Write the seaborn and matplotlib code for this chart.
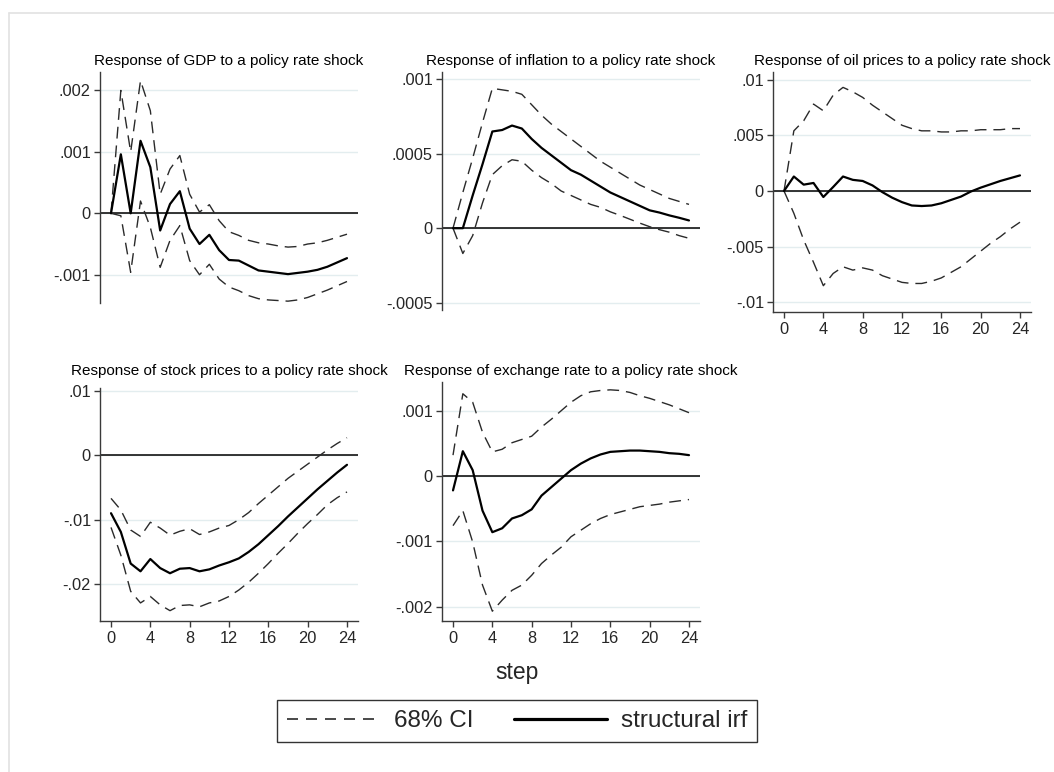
import matplotlib
matplotlib.use("Agg")
import matplotlib.pyplot as plt
import seaborn as sns
import pandas as pd
from matplotlib.lines import Line2D

# ---------------- data ----------------
steps = list(range(25))

gdp_irf = [0, .00096, 0, .00118, .00075, -.00028, .00015, .00036, -.00025, -.0005, -.00035, -.0006,
           -.00076, -.00077, -.00085, -.00093, -.00095, -.00097, -.00099, -.00097, -.00095, -.00092,
           -.00087, -.0008, -.00073]
gdp_up = [0, .002, .001, .00216, .00167, .00031, .00072, .00094, .00031, .00002, .00014, -.00012,
          -.0003, -.00036, -.00044, -.00048, -.0005, -.00053, -.00055, -.00054, -.0005, -.00048,
          -.00044, -.00039, -.00034]
gdp_lo = [0, -.00004, -.00096, .0002, -.00023, -.00088, -.00044, -.0002, -.00077, -.001, -.00083,
          -.00107, -.0012, -.00126, -.00134, -.00139, -.00141, -.00142, -.00143, -.00141, -.00137,
          -.00131, -.00125, -.00118, -.00111]

infl_irf = [0, 0, .00022, .00043, .00065, .00066, .00069, .00067, .0006, .00054, .00049, .00044,
            .00039, .00036, .00032, .00028, .00024, .00021, .00018, .00015, .00012, .000105,
            .000086, .00007, .000052]
infl_up = [0, .00024, .00047, .00071, .00094, .00093, .00092, .0009, .00083, .00076, .0007, .00065,
           .0006, .00055, .0005, .00045, .00041, .00037, .00033, .00029, .00026, .00023, .0002,
           .00018, .00016]
infl_lo = [0, -.00017, -.00005, .00017, .00036, .00042, .00046, .00045, .00039, .00034, .0003,
           .00025, .00022, .00019, .00016, .00014, .00011, .000086, .00006, .000034, .00001,
           -.00001, -.000027, -.00005, -.000068]

oil_irf = [0, .0013, .00057, .00072, -.00054, .00036, .0013, .001, .0009, .0005, -.0001, -.0006,
           -.001, -.0013, -.00135, -.0013, -.0011, -.0008, -.0005, -.00005, .0003, .0006, .0009,
           .00115, .0014]
oil_up = [0, .0054, .0063, .0078, .0072, .0086, .0093, .0089, .0084, .0077, .0071, .0065, .0059,
          .0056, .0054, .0054, .0053, .0053, .0054, .0054, .0055, .0055, .0055, .0056, .0056]
oil_lo = [0, -.002, -.0044, -.0064, -.0085, -.0074, -.0068, -.0071, -.0069, -.0071, -.0076,
          -.0079, -.0082, -.0083, -.0083, -.0081, -.0078, -.0073, -.0068, -.0061, -.0054, -.0047,
          -.0041, -.0034, -.0028]

stock_irf = [-.009, -.0119, -.0168, -.018, -.0161, -.0175, -.0183, -.0176, -.0175, -.018, -.0177,
             -.0171, -.0166, -.016, -.015, -.0138, -.0124, -.011, -.0095, -.0081, -.0067, -.0053,
             -.004, -.0027, -.0015]
stock_up = [-.0067, -.0085, -.0116, -.0126, -.0104, -.0113, -.0124, -.0118, -.0114, -.0123, -.0119,
            -.0113, -.0109, -.01, -.0089, -.0075, -.0062, -.0049, -.0036, -.0025, -.0014, -.0003,
            .0008, .0018, .0027]
stock_lo = [-.0112, -.0155, -.0211, -.0229, -.0219, -.0232, -.0241, -.0233, -.0232, -.0235, -.0229,
            -.0226, -.0219, -.0209, -.0197, -.0183, -.0168, -.0152, -.0137, -.0121, -.0106, -.0092,
            -.0077, -.0066, -.0057]

fx_irf = [-.00022, .00038, .00009, -.00053, -.00086, -.0008, -.00065, -.0006, -.00051, -.0003,
          -.00017, -.00004, .00009, .00019, .00027, .00033, .00037, .00038, .00039, .00039, .00038,
          .00037, .00035, .00034, .00032]
fx_up = [.00032, .00126, .00113, .00067, .00037, .00041, .00051, .00056, .00061, .00075, .00087,
         .001, .00113, .00123, .00129, .00131, .00132, .00131, .00128, .00123, .00119, .00114,
         .00109, .00103, .00097]
fx_lo = [-.00076, -.00053, -.00101, -.00167, -.00207, -.0019, -.00175, -.00167, -.00152, -.00134,
         -.00121, -.00109, -.00093, -.00083, -.00073, -.00065, -.00059, -.00055, -.00051, -.00047,
         -.00045, -.00043, -.0004, -.00038, -.00036]

titles = ["Response of GDP to a policy rate shock",
          "Response of inflation to a policy rate shock",
          "Response of oil prices to a policy rate shock",
          "Response of stock prices to a policy rate shock",
          "Response of exchange rate to a policy rate shock"]

gdp_ticks = [-.001, 0, .001, .002]
gdp_labels = ["-.001", "0", ".001", ".002"]
infl_ticks = [-.0005, 0, .0005, .001]
infl_labels = ["-.0005", "0", ".0005", ".001"]
oil_ticks = [-.01, -.005, 0, .005, .01]
oil_labels = ["-.01", "-.005", "0", ".005", ".01"]
stock_ticks = [-.02, -.01, 0, .01]
stock_labels = ["-.02", "-.01", "0", ".01"]
fx_ticks = [-.002, -.001, 0, .001]
fx_labels = ["-.002", "-.001", "0", ".001"]
x_ticks = [0, 4, 8, 12, 16, 20, 24]
x_labels = ["0", "4", "8", "12", "16", "20", "24"]

legend_labels = ["68% CI", "structural irf"]
xlabel = "step"

# ---------------- style ----------------
sns.set_style("white")
plt.rcParams["font.family"] = ["Liberation Sans", "DejaVu Sans"]

W, H = 1054, 772
fig = plt.figure(figsize=(W / 100, H / 100), dpi=100)
fig.patch.set_facecolor("white")


def box(l, t, r, b):
    return [l / W, 1 - b / H, (r - l) / W, (b - t) / H]


GRID = "#e3edef"
SPINE = "#3a3a3a"
DASH = (0, (8.5, 5.0))
TICK_FS = 11.8
TITLE_FS = 11

panels = [
    dict(pos=(100, 72, 358, 303), ylim=(-.00146, .0023), irf=gdp_irf, up=gdp_up, lo=gdp_lo,
         yt=gdp_ticks, yl=gdp_labels, xaxis=False, title=titles[0], pad=5.0),
    dict(pos=(442, 72, 700, 310), ylim=(-.00055, .00105), irf=infl_irf, up=infl_up, lo=infl_lo,
         yt=infl_ticks, yl=infl_labels, xaxis=False, title=titles[1], pad=5.0),
    dict(pos=(773, 72, 1031, 312), ylim=(-.01086, .01068), irf=oil_irf, up=oil_up, lo=oil_lo,
         yt=oil_ticks, yl=oil_labels, xaxis=True, title=titles[2], pad=5.0),
    dict(pos=(100, 388, 358, 621), ylim=(-.0257, .0104), irf=stock_irf, up=stock_up, lo=stock_lo,
         yt=stock_ticks, yl=stock_labels, xaxis=True, title=titles[3], pad=9.3),
    dict(pos=(442, 382, 700, 621), ylim=(-.00222, .00144), irf=fx_irf, up=fx_up, lo=fx_lo,
         yt=fx_ticks, yl=fx_labels, xaxis=True, title=titles[4], pad=5.0),
]

for p in panels:
    ax = fig.add_axes(box(*p["pos"]))
    ax.set_facecolor("white")
    df = pd.DataFrame({"step": steps, "irf": p["irf"], "up": p["up"], "lo": p["lo"]})
    for yv in p["yt"]:
        ax.axhline(yv, color=GRID, lw=1.0, zorder=0)
    ax.axhline(0, color="black", lw=1.1, zorder=1)
    sns.lineplot(data=df, x="step", y="up", ax=ax, color="#2a2a2a", lw=1.0,
                 linestyle=DASH, estimator=None, sort=False, zorder=2)
    sns.lineplot(data=df, x="step", y="lo", ax=ax, color="#2a2a2a", lw=1.0,
                 linestyle=DASH, estimator=None, sort=False, zorder=2)
    sns.lineplot(data=df, x="step", y="irf", ax=ax, color="black", lw=1.6,
                 estimator=None, sort=False, zorder=3)
    ax.set_xlim(-1.12, 25.12)
    ax.set_ylim(*p["ylim"])
    ax.set_yticks(p["yt"])
    ax.set_yticklabels(p["yl"])
    ax.set_xlabel("")
    ax.set_ylabel("")
    ax.grid(False)
    for s in ["top", "right"]:
        ax.spines[s].set_visible(False)
    ax.spines["left"].set_color(SPINE)
    ax.spines["left"].set_linewidth(1.0)
    ax.tick_params(axis="y", direction="out", length=4.5, width=1.0, color=SPINE,
                   labelsize=TICK_FS, pad=2, left=True)
    if p["xaxis"]:
        ax.spines["bottom"].set_color(SPINE)
        ax.spines["bottom"].set_linewidth(1.0)
        ax.set_xticks(x_ticks)
        ax.set_xticklabels(x_labels)
        ax.tick_params(axis="x", direction="out", length=4.5, width=1.0, color=SPINE,
                       labelsize=TICK_FS, pad=3.0, bottom=True)
    else:
        ax.spines["bottom"].set_visible(False)
        ax.set_xticks([])
    ax.set_title(p["title"], fontsize=TITLE_FS, pad=p["pad"], color="black")

# x label "step"
fig.text(517 / W, 1 - 673 / H, xlabel, ha="center", va="center", fontsize=16.5)

# legend
handles = [Line2D([], [], color="#2a2a2a", lw=1.2, linestyle=(0, (6.6, 4.8))),
           Line2D([], [], color="black", lw=2.3)]
leg = fig.legend(handles, legend_labels, loc="center", bbox_to_anchor=(517 / W, 1 - 721 / H),
                 ncol=2, fontsize=17.5, frameon=True, fancybox=False, handlelength=3.85,
                 handletextpad=0.55, columnspacing=1.65, borderpad=0.42)
leg.get_frame().set_edgecolor("black")
leg.get_frame().set_linewidth(1.0)

# outer light border
fig.add_artist(Line2D([9 / W, 9 / W], [0, 1 - 13 / H], transform=fig.transFigure,
                      color="#e2e2e2", lw=1.2))
fig.add_artist(Line2D([9 / W, 1], [1 - 13 / H, 1 - 13 / H], transform=fig.transFigure,
                      color="#e2e2e2", lw=1.2))

fig.savefig("out.png", dpi=100)
